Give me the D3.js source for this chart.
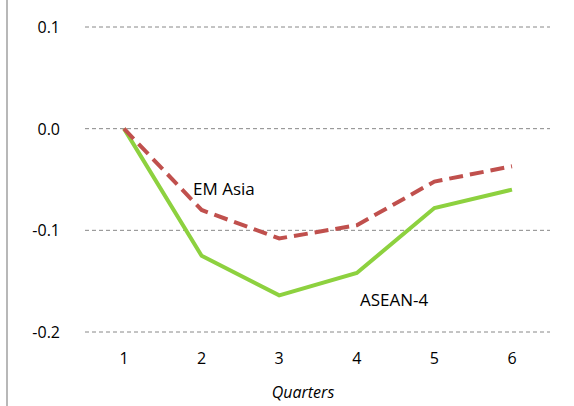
<!DOCTYPE html>
<html>
<head>
<meta charset="UTF-8">
<script src="https://d3js.org/d3.v7.min.js"></script>
<style>
  body { margin: 0; background: #fff; }
  text { font-family: "Open Sans", "DejaVu Sans", sans-serif; fill: #000; }
</style>
</head>
<body>
<svg width="574" height="406"></svg>
<script>
  const quarters = [1, 2, 3, 4, 5, 6];
  const asean4 = [0, -0.125, -0.164, -0.142, -0.078, -0.060];
  const emAsia = [0, -0.080, -0.108, -0.095, -0.052, -0.037];
  const yTicks = [0.1, 0.0, -0.1, -0.2];

  const svg = d3.select("svg");

  // frame line on the left
  svg.append("line").attr("x1", 7).attr("x2", 7).attr("y1", 0).attr("y2", 406)
    .attr("stroke", "#a0a0a0").attr("stroke-width", 1.5);

  const x = d3.scalePoint().domain(quarters).range([124, 512]);
  const y = d3.scaleLinear().domain([-0.2, 0.1]).range([332, 27]);

  svg.selectAll(".grid").data(yTicks).enter().append("line")
    .attr("x1", 85).attr("x2", 550)
    .attr("y1", d => y(d)).attr("y2", d => y(d))
    .attr("stroke", "#888").attr("stroke-dasharray", "4,3").attr("stroke-width", 1);

  svg.selectAll(".yl").data(yTicks).enter().append("text")
    .attr("x", 60).attr("y", d => y(d) + 6).attr("text-anchor", "end")
    .attr("font-size", 16).text(d => d.toFixed(1));

  svg.selectAll(".xl").data(quarters).enter().append("text")
    .attr("x", d => x(d)).attr("y", 364).attr("text-anchor", "middle")
    .attr("font-size", 16).text(d => d);

  svg.append("text").attr("x", 303).attr("y", 398).attr("text-anchor", "middle")
    .attr("font-size", 16).attr("font-style", "italic").text("Quarters");

  const line = d3.line().x((d, i) => x(quarters[i])).y(d => y(d));

  svg.append("path").datum(asean4).attr("d", line)
    .attr("fill", "none").attr("stroke", "#8dd13f").attr("stroke-width", 4);
  svg.append("path").datum(emAsia).attr("d", line)
    .attr("fill", "none").attr("stroke", "#c0504d").attr("stroke-width", 4)
    .attr("stroke-dasharray", "14,7");

  svg.append("text").attr("x", 193).attr("y", 195).attr("font-size", 17).text("EM Asia");
  svg.append("text").attr("x", 360).attr("y", 306).attr("font-size", 17).text("ASEAN-4");
</script>
</body>
</html>
